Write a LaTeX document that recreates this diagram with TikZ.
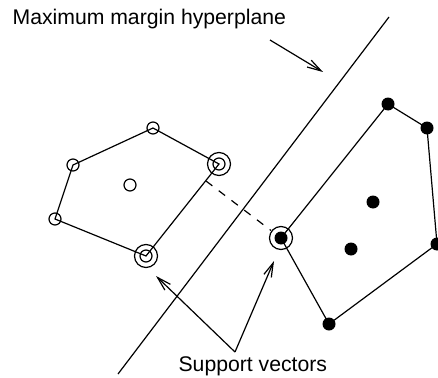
\documentclass[tikz,border=0pt]{standalone}
\usepackage{fontspec}
\setmainfont{Liberation Sans}
\usetikzlibrary{arrows.meta}
\begin{document}
\begin{tikzpicture}[x=1pt,y=-1pt,line width=1.2pt,
  opt/.style={circle,draw,line width=1.2pt,minimum size=12pt,inner sep=0pt},
  fpt/.style={circle,fill,minimum size=13pt,inner sep=0pt},
  ring/.style={draw,line width=1.2pt},
  edge/.style={line width=1.2pt},
  barb/.style={line width=1.2pt,-{Straight Barb[length=14pt,width=8pt,line width=1.2pt]}},
  lbl/.style={font=\fontsize{21.2}{25}\selectfont,inner sep=0pt}]
\useasboundingbox (0,0) rectangle (438,377);
\clip (0,0) rectangle (438,377);
% open points
\node[opt] (a1) at (153,128) {};
\node[opt] (a2) at (73,165) {};
\node[opt] (a3) at (55,219) {};
\node[opt] (a4) at (146,256) {};
\node[opt] (a5) at (219,164) {};
\node[opt] (a6) at (130,185) {};
% filled points
\node[fpt] (b1) at (388,104) {};
\node[fpt] (b2) at (427,128) {};
\node[fpt] (b3) at (437,244) {};
\node[fpt] (b4) at (329,324) {};
\node[fpt] (b5) at (281,238) {};
\node[fpt] (b6) at (373,202) {};
\node[fpt] (b7) at (351,249) {};
% support vector rings
\draw[ring] (a4) circle (11.5pt);
\draw[ring] (a5) circle (11.5pt);
\draw[ring] (b5) circle (11.5pt);
% hulls
\draw[edge] (a1.center) -- (a5.center) -- (a4.center) -- (a3.center) -- (a2.center) -- (a1.center);
\draw[edge] (b1.center) -- (b2.center) -- (b3.center) -- (b4.center) -- (b5.center) -- (b1.center);
% hyperplane
\coordinate (h1) at (389,17);
\coordinate (h2) at (118,374);
\draw[edge] (h1) -- (h2);
% margin (dashed)
\coordinate (foot) at (206,181);
\coordinate (dend) at (271,230.5);
\draw[edge,dash pattern=on 8pt off 8pt] (foot) -- (dend);
% labels
\node[lbl,anchor=base west] (mlabel) at (12,25) {Maximum margin hyperplane};
\coordinate (mstart) at (270,40);
\coordinate (mtip) at (323,72);
\draw[barb] (mstart) -- (mtip);
\node[lbl,anchor=base west] (svlabel) at (178,371) {Support vectors};
\coordinate (apex) at (235,352);
\coordinate (t1) at (156,276);
\coordinate (t2) at (274,261);
\draw[barb] (apex) -- (t1);
\draw[barb] (apex) -- (t2);
\end{tikzpicture}
\end{document}
